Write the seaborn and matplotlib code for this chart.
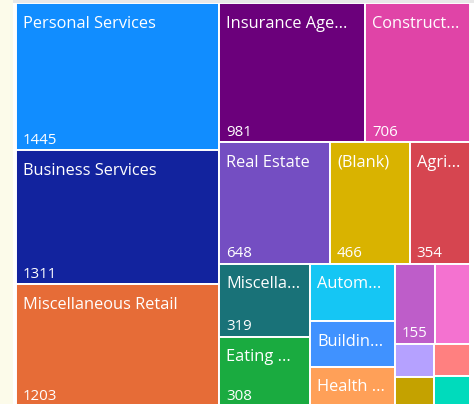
import seaborn as sns
import matplotlib.pyplot as plt
from matplotlib.patches import Rectangle

sns.set_theme(style="white")
plt.rcParams["font.family"] = ["Open Sans", "DejaVu Sans"]

# %% data (descending, as the treemap sorts it)
categories = [
    "Personal Services", "Business Services", "Miscellaneous Retail",
    "Insurance Agents, Brokers & Service", "Construction", "Real Estate",
    "(Blank)", "Agriculture", "Miscellaneous Manufacturing",
    "Eating & Drinking Places", "Automotive Dealers",
    "Building Materials", "Health Services", "Engineering Services",
    "Wholesale Trade", "Food Stores", "Apparel Stores",
    "Transportation Services", "Educational Services",
]
values = [1445, 1311, 1203, 981, 706, 648, 466, 354, 319, 308,
          235, 185, 165, 155, 135, 63, 58, 55, 54]
colors = ["#118DFF", "#12239E", "#E66C37", "#6B007B", "#E044A7", "#744EC2",
          "#D9B300", "#D64550", "#197278", "#1AAB40", "#15C6F4", "#4092FF",
          "#FFA058", "#BE5DC9", "#F472D0", "#B5A1FF", "#C4A200", "#FF8080",
          "#00DBBC"]
palette = sns.color_palette(colors)

PHI = (1 + 5 ** 0.5) / 2


def squarify(vals, x0, y0, x1, y1, ratio=PHI):
    """squarified layout, same rule as d3.treemapSquarify"""
    rects = []
    total = float(sum(vals))
    i0, n = 0, len(vals)
    while i0 < n:
        dx, dy = x1 - x0, y1 - y0
        i1 = i0 + 1
        s = vmin = vmax = vals[i0]
        alpha = max(dy / dx, dx / dy) / (total * ratio)
        beta = s * s * alpha
        best = max(vmax / beta, beta / vmin)
        while i1 < n:
            v = vals[i1]
            s2 = s + v
            mn, mx = min(vmin, v), max(vmax, v)
            beta = s2 * s2 * alpha
            r = max(mx / beta, beta / mn)
            if r > best:
                break
            best, s, vmin, vmax = r, s2, mn, mx
            i1 += 1
        row = vals[i0:i1]
        if dx < dy:
            h = dy * s / total
            xx = x0
            for v in row:
                w = dx * v / s
                rects.append((xx, y0, w, h))
                xx += w
            y0 += h
        else:
            w = dx * s / total
            yy = y0
            for v in row:
                h = dy * v / s
                rects.append((x0, yy, w, h))
                yy += h
            x0 += w
        total -= s
        i0 = i1
    return rects


# %% figure
fig = plt.figure(figsize=(4.74, 4.04), dpi=100)
fig.patch.set_facecolor("white")
fig.add_artist(Rectangle((0, 0), 13 / 474, 1, transform=fig.transFigure,
                         facecolor="#FCFBEA", edgecolor="none"))
fig.add_artist(Rectangle((13 / 474, 1 - 3 / 404), 1, 3 / 404,
                         transform=fig.transFigure,
                         facecolor="#E8E8E8", edgecolor="none"))

W, H = 454, 404
ax = fig.add_axes([16 / 474, -3 / 404, W / 474, H / 404])
ax.set_xlim(0, W)
ax.set_ylim(H, 0)
ax.axis("off")

renderer = fig.canvas.get_renderer()
FS_CAT = 11.8
FS_VAL = 10.8
PAD = 7


def text_width(t):
    return t.get_window_extent(renderer).width


def fit_label(x, y, label, max_w):
    t = ax.text(x, y, label, color="white", fontsize=FS_CAT, va="baseline")
    if text_width(t) <= max_w:
        return t
    for k in range(len(label) - 1, 2, -1):
        t.set_text(label[:k] + "...")
        if text_width(t) <= max_w:
            return t
    t.remove()
    return None


rects = squarify(values, 0, 0, W, H)
for (x, y, w, h), cat, val, col in zip(rects, categories, values, palette):
    ax.add_patch(Rectangle((x, y), w, h, facecolor=col, edgecolor="white",
                           linewidth=1.4))
    if h > 30:
        fit_label(x + PAD, y + 24.5, cat, w - PAD - 9.5)
    if h >= 62:
        t = ax.text(x + PAD, y + h - 6.5, str(val), color="white",
                    fontsize=FS_VAL, va="baseline")
        if text_width(t) > w - 2 * PAD:
            t.remove()

fig.savefig("out.png", dpi=100)
